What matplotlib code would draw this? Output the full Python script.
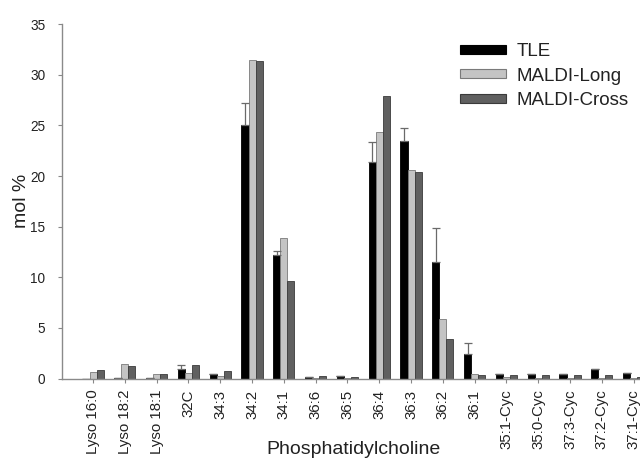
import matplotlib
matplotlib.use("Agg")
import matplotlib.pyplot as plt
import numpy as np
from matplotlib.patches import Rectangle

plt.rcParams['font.family'] = ['Liberation Sans', 'DejaVu Sans']

categories = ["Lyso 16:0", "Lyso 18:2", "Lyso 18:1", "32C", "34:3", "34:2", "34:1",
              "36:6", "36:5", "36:4", "36:3", "36:2", "36:1",
              "35:1-Cyc", "35:0-Cyc", "37:3-Cyc", "37:2-Cyc", "37:1-Cyc"]
tle = [0.0, 0.05, 0.05, 0.97, 0.41, 25.0, 12.16, 0.18, 0.25, 21.4, 23.45, 11.5, 2.42,
       0.42, 0.48, 0.45, 0.9, 0.56]
tle_err = [0.0, 0.0, 0.0, 0.36, 0.0, 2.2, 0.45, 0.0, 0.0, 1.95, 1.3, 3.4, 1.05,
           0.0, 0.0, 0.0, 0.0, 0.0]
maldi_long = [0.67, 1.4, 0.41, 0.5, 0.25, 31.5, 13.9, 0.05, 0.05, 24.36, 20.6, 5.87, 0.45,
              0.1, 0.03, 0.05, 0.08, 0.03]
maldi_cross = [0.84, 1.27, 0.48, 1.33, 0.77, 31.4, 9.66, 0.2, 0.15, 27.9, 20.4, 3.87, 0.3,
               0.38, 0.35, 0.35, 0.35, 0.15]
series_names = ["TLE", "MALDI-Long", "MALDI-Cross"]

fig = plt.figure(figsize=(6.4, 4.65), dpi=100)
ax = fig.add_axes([0.097, 0.186, 0.903, 0.762])

x = np.arange(len(categories))
w = 0.222
face = ["#000000", "#c4c4c4", "#606060"]
edge = ["#000000", "#7a7a7a", "#3a3a3a"]

ax.bar(x - w, tle, w, color=face[0], edgecolor=edge[0], linewidth=0.6,
       yerr=[np.zeros(len(tle)), tle_err], error_kw=dict(ecolor="#6a6a6a", elinewidth=0.9,
                                                          capsize=3, capthick=0.9))
ax.bar(x, maldi_long, w, color=face[1], edgecolor=edge[1], linewidth=0.6)
ax.bar(x + w, maldi_cross, w, color=face[2], edgecolor=edge[2], linewidth=0.6)

ax.set_xlim(-0.975, 17.2)
ax.set_ylim(0, 35)
ax.set_yticks(np.arange(0, 36, 5))
ax.set_xticks(x)
ax.set_xticklabels(categories, rotation=90, fontsize=10.8, color="#222222")
ax.tick_params(axis='y', labelsize=9.8, colors="#222222", length=3, width=0.8,
               color="#888888", pad=9)
ax.tick_params(axis='x', length=3, width=0.8, color="#888888", pad=5)
for s in ["top", "right"]:
    ax.spines[s].set_visible(False)
for s in ["left", "bottom"]:
    ax.spines[s].set_color("#8a8a8a")
    ax.spines[s].set_linewidth(1.0)

fig.text(0.034, 0.568, "mol %", rotation=90, fontsize=14, va="center", ha="center",
         color="#222222")
fig.text(354 / 640, 1 - 449 / 465, "Phosphatidylcholine", fontsize=14, va="center",
         ha="center", color="#222222")

handles = [Rectangle((0, 0), 1, 1, facecolor=face[i], edgecolor=edge[i], linewidth=0.8)
           for i in range(3)]
leg = fig.legend(handles, series_names, loc="upper left",
                 bbox_to_anchor=(460 / 640, 1 - 43 / 465), frameon=False,
                 fontsize=13.5, handlelength=2.45, handleheight=0.37,
                 handletextpad=0.55, labelspacing=0.4, borderpad=0, borderaxespad=0)
for t in leg.get_texts():
    t.set_color("#222222")

fig.savefig("out.png", dpi=100)
